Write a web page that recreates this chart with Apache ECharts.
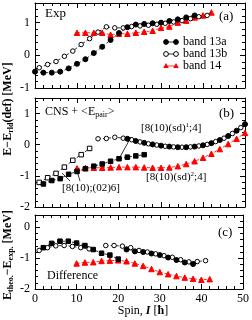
<!DOCTYPE html>
<html><head><meta charset="utf-8">
<script src="https://cdn.jsdelivr.net/npm/echarts@6/dist/echarts.min.js"></script>
<style>html,body{margin:0;padding:0;background:#fff}#c{width:252px;height:320px}</style>
</head><body><div id="c"></div>
<script>
// ---------- data ----------
// panel (a) experiment
const a13aSpin = [0,2,4,6,8,10,12,14,16,18,20,22,24,26,28,30,32,34,36,38];
const a13aVal  = [-0.5,-0.53,-0.53,-0.5,-0.4,-0.26,-0.12,0.07,0.26,0.47,0.68,0.86,0.94,0.96,0.98,1.0,1.05,1.1,1.16,1.22];
const a13bSpin = [1,3,5,7,9,11,13,15,17,19,21,23,25,27,29,31,33,35,37,39,41];
const a13bVal  = [-0.38,-0.28,-0.19,-0.03,0.13,0.33,0.51,0.71,0.87,0.84,0.84,0.88,0.9,0.92,0.95,0.98,1.02,1.06,1.12,1.18,1.22];
const a14Spin  = [10,12,14,16,18,20,22,24,26,28,30,32,34,36,38,40,42];
const a14Val   = [0.69,0.69,0.69,0.69,0.63,0.66,0.66,0.69,0.72,0.75,0.84,0.88,1.0,1.06,1.16,1.22,1.31];
// panel (b) CNS + <Epair>
const b13aSqSpin = [2,4,6,8,10,12,14,16,18,20,22,24,26];
const b13aSqVal  = [-1.26,-1.15,-1.09,-0.95,-0.86,-0.77,-0.69,-0.62,-0.53,-0.45,-0.4,-0.36,-0.32];
const b13aCiSpin = [22,24,26,28,30,32,34,36,38,40,42,44,46,48,50];
const b13aCiVal  = [0.19,0.12,0.06,0.01,-0.03,-0.06,-0.08,-0.08,-0.06,-0.02,0.05,0.15,0.28,0.45,0.66];
const b13bSqSpin = [1,3,5,7,9,11,13];
const b13bSqVal  = [-1.21,-1.06,-0.92,-0.72,-0.5,-0.32,-0.12];
const b13bCiSpin = [15,17,19,21,23,25,27,29,31,33,35,37,39,41,43,45,47,49];
const b13bCiVal  = [0.19,0.2,0.24,0.21,0.16,0.09,0.03,-0.01,-0.05,-0.07,-0.08,-0.07,-0.04,0.01,0.1,0.21,0.36,0.55];
const b14Spin = [10,12,14,16,18,20,22,24,26,28,30,32,34,36,38,40,42,44,46,48,50];
const b14Val  = [-0.76,-0.75,-0.74,-0.74,-0.73,-0.72,-0.72,-0.72,-0.73,-0.74,-0.74,-0.73,-0.69,-0.62,-0.53,-0.42,-0.29,-0.14,0.02,0.19,0.38];
// panel (c) difference
const c13aSqSpin = [2,4,6,8,10,12,14,16,18,20];
const c13aSqVal  = [-0.66,-0.52,-0.45,-0.45,-0.51,-0.59,-0.72,-0.84,-0.9,-1.03];
const c13aCiSpin = [22,24,26,28,30,32,34,36,38];
const c13aCiVal  = [-0.72,-0.78,-0.8,-0.85,-0.9,-0.98,-1.06,-1.14,-1.19];
const c13bSpin = [1,3,5,7,9,11,13,15,17,19,21,23,25,27,29,31,33,35,37,39,41];
const c13bVal  = [-0.75,-0.66,-0.6,-0.59,-0.62,-0.66,-0.7,null,-0.59,-0.59,-0.61,-0.66,-0.75,-0.8,-0.86,-0.92,-0.97,-1.05,-1.12,-1.11,-1.08];
const c14Spin = [10,12,14,16,18,20,22,24,26,28,30,32,34,36,38,40,42];
const c14Val  = [-1.17,-1.14,-1.13,-1.09,-1.08,-1.07,-1.1,-1.17,-1.25,-1.35,-1.45,-1.52,-1.58,-1.63,-1.67,-1.7,-1.68];
// axes
const xRange = [0, 50], xStep = 10;
const yRanges = [[-1, 1.6], [-2, 1.5], [-2, 0.4]];
const yStep = 1;

// ---------- build ----------
const SERIF = '"Liberation Serif","DejaVu Serif",serif';
const RED = '#ff0000';
const grids = [
  {left:35, right:7, top:3, height:85},
  {left:35, right:7, top:98, height:109},
  {left:35, right:7, top:215, height:74}
];
const xAxes = [], yAxes = [];
grids.forEach((g, i) => {
  ['bottom','top'].forEach(pos => xAxes.push({
    type:'value', gridIndex:i, position:pos, min:xRange[0], max:xRange[1], interval:xStep,
    axisLine:{show:true, onZero:false, lineStyle:{color:'#000', width:1}},
    axisTick:{show:true, inside:true, length:5, lineStyle:{color:'#000'}},
    minorTick:{show:true, splitNumber:5, length:3, lineStyle:{color:'#000'}},
    splitLine:{show:false},
    axisLabel:{show: (pos==='bottom' && i===2), color:'#000', fontFamily:SERIF, fontSize:12, margin:4}
  }));
  ['left','right'].forEach(pos => yAxes.push({
    type:'value', gridIndex:i, position:pos, min:yRanges[i][0], max:yRanges[i][1], interval:yStep,
    axisLine:{show:true, onZero:false, lineStyle:{color:'#000', width:1}},
    axisTick:{show:true, inside:true, length:5, lineStyle:{color:'#000'}},
    minorTick:{show:true, splitNumber:5, length:3, lineStyle:{color:'#000'}},
    splitLine:{show:false},
    axisLabel:{show: pos==='left', color:'#000', fontFamily:SERIF, fontSize:12, margin:5,
      showMaxLabel:false,
      formatter: v => (Math.abs(v - Math.round(v)) < 1e-6 ? String(Math.round(v)) : '')}
  }));
});

function ser(gi, spins, vals, symbol, filled, color, size) {
  return {
    type:'line', xAxisIndex: gi*2, yAxisIndex: gi*2,
    data: spins.map((s, k) => [s, vals[k]]),
    symbol: symbol, symbolSize: size, showAllSymbol:true, connectNulls:false,
    itemStyle:{color: filled ? color : '#fff', borderColor: color, borderWidth: 1, opacity:1},
    lineStyle:{color: color, width: 0.8, type:[3,2]},
    animation:false, z: 3
  };
}

const series = [
  ser(0, a14Spin, a14Val, 'triangle', true, RED, 5.5),
  ser(0, a13bSpin, a13bVal, 'circle', false, '#000', 4.5),
  ser(0, a13aSpin, a13aVal, 'circle', true, '#000', 5),

  ser(1, b14Spin, b14Val, 'triangle', true, RED, 5.5),
  ser(1, b13bSqSpin, b13bSqVal, 'rect', false, '#000', 4.5),
  ser(1, b13aSqSpin, b13aSqVal, 'rect', true, '#000', 4.5),
  ser(1, b13bCiSpin, b13bCiVal, 'circle', false, '#000', 4.5),
  ser(1, b13aCiSpin, b13aCiVal, 'circle', true, '#000', 5),

  ser(2, c14Spin, c14Val, 'triangle', true, RED, 5.5),
  ser(2, c13bSpin, c13bVal, 'circle', false, '#000', 4.5),
  ser(2, c13aSqSpin, c13aSqVal, 'rect', true, '#000', 4.5),
  ser(2, c13aCiSpin, c13aCiVal, 'circle', true, '#000', 5)
];

function txt(x, y, text, opt) {
  return Object.assign({type:'text', x:x, y:y, z:10, style:Object.assign({
    text:text, fill:'#000', font:'12px ' + SERIF, textVerticalAlign:'middle', verticalAlign:'middle'
  }, opt || {})});
}
const richBase = {
  n:{fontFamily:SERIF, fontSize:12, fill:'#000'},
  b:{fontFamily:SERIF, fontSize:12, fontWeight:'bold', fill:'#000'},
  bs:{fontFamily:SERIF, fontSize:8, fontWeight:'bold', fill:'#000', verticalAlign:'bottom', padding:[6,0,0,0]},
  bi:{fontFamily:SERIF, fontSize:12, fontWeight:'bold', fontStyle:'italic', fill:'#000'},
  s:{fontFamily:SERIF, fontSize:8, fill:'#000', verticalAlign:'bottom', padding:[6,0,0,0]},
  l:{fontFamily:SERIF, fontSize:11, fill:'#000'},
  sup:{fontFamily:SERIF, fontSize:7, fill:'#000', verticalAlign:'top', padding:[0,0,6,0]}
};
function rtxt(x, y, text, extra) {
  return Object.assign({type:'text', x:x, y:y, z:10, style:{
    text:text, rich:richBase, align:'left', verticalAlign:'middle'
  }}, extra || {});
}
function legendRow(y, symbol, filled, color, label) {
  const els = [{type:'line', shape:{x1:166, y1:y, x2:176, y2:y}, style:{stroke:color, lineWidth:0.8}, z:9}];
  [166, 176].forEach(cx => {
    if (symbol === 'circle') {
      els.push({type:'circle', shape:{cx:cx, cy:y, r:2.4}, style:{fill: filled ? color : '#fff', stroke:color, lineWidth:1}, z:10});
    } else {
      els.push({type:'polygon', shape:{points:[[cx, y-3],[cx+2.8,y+2],[cx-2.8,y+2]]}, style:{fill:color}, z:10});
    }
  });
  els.push(txt(183, y, label));
  return els;
}

const graphic = [].concat(
  [txt(45, 14, 'Exp', {font:'13px ' + SERIF}),
   txt(219, 17, '(a)', {font:'13px ' + SERIF}),
   rtxt(45, 112, '{n|CNS + <E}{s|pair}{n|>}'),
   txt(219, 114, '(b)', {font:'13px ' + SERIF}),
   rtxt(141, 128, '{l|[8(10)(sd)}{sup|1}{l|;4]}'),
   rtxt(146, 177, '{l|[8(10)(sd)}{sup|2}{l|;4]}'),
   rtxt(62, 188, '{l|[8(10);(02)6]}'),
   txt(47, 276, 'Difference'),
   txt(218, 233, '(c)', {font:'13px ' + SERIF}),
   {type:'line', shape:{x1:70, y1:181, x2:62, y2:173}, style:{stroke:'#000', lineWidth:0.8}, z:9},
   {type:'line', shape:{x1:80, y1:181, x2:77, y2:171}, style:{stroke:'#000', lineWidth:0.8}, z:9},
   {type:'line', shape:{x1:120, y1:157, x2:131, y2:137}, style:{stroke:'#000', lineWidth:0.8}, z:9},
   rtxt(8, 109, '', {rotation:Math.PI/2, style:{text:'{b|E−E}{bs|rld}{b|(def) [MeV]}', rich:richBase, align:'center', verticalAlign:'middle'}}),
   rtxt(8, 255, '', {rotation:Math.PI/2, style:{text:'{b|E}{bs|theo.}{b|−E}{bs|exp.}{b| [MeV]}', rich:richBase, align:'center', verticalAlign:'middle'}}),
   rtxt(143, 311, '', {style:{text:'{n|Spin, }{bi|I}{n| [}{b|ħ}{n|]}', rich:richBase, align:'center', verticalAlign:'middle'}})
  ],
  legendRow(42, 'circle', true, '#000', 'band 13a'),
  legendRow(54, 'circle', false, '#000', 'band 13b'),
  legendRow(66, 'triangle', true, RED, 'band 14')
);

const chart = echarts.init(document.getElementById('c'), null, {renderer:'canvas'});
chart.setOption({
  animation:false,
  backgroundColor:'#fff',
  grid: grids,
  xAxis: xAxes,
  yAxis: yAxes,
  series: series,
  graphic: graphic
});
</script>
</body></html>
